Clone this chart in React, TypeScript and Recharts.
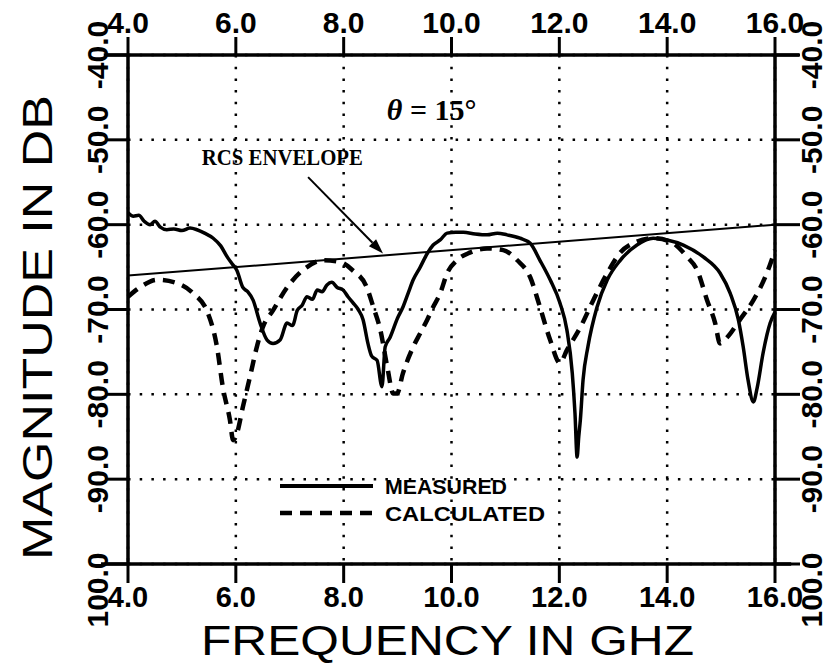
import {
  CartesianGrid,
  ComposedChart,
  Label,
  Legend,
  Line,
  ReferenceDot,
  ReferenceLine,
  XAxis,
  YAxis,
} from "recharts";

// measured RCS, 15 degree incidence
const MEAS_GHZ = [
  4.0, 4.1, 4.2, 4.3, 4.41, 4.5, 4.6, 4.72, 4.85, 5.0, 5.15, 5.28, 5.42, 5.58, 5.72, 5.84, 5.93, 6.02,
  6.13, 6.22, 6.32, 6.45, 6.58, 6.69, 6.82, 6.95, 7.05, 7.14, 7.23, 7.32, 7.42, 7.51, 7.6, 7.69, 7.78,
  7.88, 7.99, 8.08, 8.17, 8.27, 8.36, 8.45, 8.52, 8.62, 8.71, 8.77, 8.86, 9.0, 9.1, 9.2, 9.29, 9.42,
  9.55, 9.66, 9.79, 9.92, 10.08, 10.22, 10.44, 10.66, 10.85, 11.03, 11.27, 11.46, 11.64, 11.83, 12.01,
  12.14, 12.24, 12.29, 12.33, 12.36, 12.39, 12.44, 12.53, 12.7, 12.89, 13.13, 13.44, 13.74, 14.0, 14.3,
  14.67, 14.98, 15.17, 15.32, 15.41, 15.5, 15.6, 15.67, 15.78, 15.91, 16.0,
];
const MEAS_DB = [
  -58.6, -59.0, -58.9, -59.6, -60.0, -59.6, -60.3, -60.6, -60.5, -60.7, -60.4, -60.6, -61.0, -61.6,
  -62.5, -63.8, -64.6, -65.4, -67.4, -67.9, -68.9, -71.6, -73.6, -74.0, -73.6, -71.6, -71.9, -70.1,
  -69.5, -68.5, -68.8, -67.7, -67.9, -67.1, -66.8, -67.4, -67.7, -68.5, -69.2, -70.0, -71.2, -74.0,
  -75.5, -76.0, -79.1, -74.4, -73.3, -71.0, -69.7, -68.0, -66.5, -65.0, -63.4, -62.4, -61.8, -61.0,
  -60.9, -60.9, -61.1, -61.2, -61.0, -61.2, -61.6, -62.2, -64.2, -66.5, -69.2, -72.4, -77.5, -82.2,
  -87.4, -85.0, -83.0, -78.3, -74.4, -69.7, -66.5, -64.2, -62.4, -61.6, -61.8, -62.4, -63.8, -65.7,
  -68.1, -71.2, -74.4, -78.3, -80.9, -79.2, -75.1, -71.6, -70.3,
];

// calculated RCS
const CALC_GHZ = [
  4.0, 4.22, 4.54, 4.91, 5.21, 5.48, 5.65, 5.76, 5.89, 5.95, 6.02, 6.13, 6.26, 6.39, 6.5, 6.69, 6.95,
  7.32, 7.62, 7.93, 8.17, 8.43, 8.55, 8.68, 8.81, 8.92, 8.99, 9.1, 9.29, 9.42, 9.55, 9.66, 9.79, 9.92,
  10.1, 10.34, 10.66, 10.96, 11.22, 11.46, 11.64, 11.83, 12.01, 12.14, 12.39, 12.63, 12.89, 13.13,
  13.44, 13.74, 14.06, 14.37, 14.56, 14.74, 14.89, 14.98, 15.11, 15.35, 15.6, 15.85, 16.0,
];
const CALC_DB = [
  -68.5, -67.4, -66.5, -66.9, -68.1, -70.4, -74.4, -79.2, -83.0, -85.4, -84.6, -81.5, -78.0, -74.4,
  -72.1, -70.1, -67.4, -65.0, -64.2, -64.4, -65.4, -67.4, -69.7, -72.4, -76.8, -79.9, -79.9, -77.5,
  -74.4, -72.8, -71.2, -69.7, -68.1, -65.7, -64.2, -63.3, -62.8, -63.0, -64.2, -66.2, -69.7, -73.6,
  -76.3, -74.8, -72.1, -68.9, -65.7, -63.3, -62.0, -61.6, -62.0, -63.8, -65.4, -68.9, -71.6, -74.0,
  -73.3, -71.2, -68.9, -65.7, -63.0,
];

// straight-line RCS envelope
const ENV_GHZ = [4, 16];
const ENV_DB = [-66, -60];

const FREQ_TICKS = [4, 6, 8, 10, 12, 14, 16];
const FREQ_LABELS = ["4.0", "6.0", "8.0", "10.0", "12.0", "14.0", "16.0"];
const DB_TICKS = [-100, -90, -80, -70, -60, -50, -40];
const DB_LABELS = ["100.0", "-90.0", "-80.0", "-70.0", "-60.0", "-50.0", "-40.0"];

const SERIES_NAMES = ["MEASURED", "CALCULATED"];

const measured = MEAS_GHZ.map((ghz, i) => ({ ghz, db: MEAS_DB[i] }));
const calculated = CALC_GHZ.map((ghz, i) => ({ ghz, db: CALC_DB[i] }));
const envelope = ENV_GHZ.map((ghz, i) => ({ ghz, db: ENV_DB[i] }));

const INK = "#000";
const TICK_FONT = "'Liberation Sans', Arial, sans-serif";
const SERIF = "'Liberation Serif', 'Times New Roman', serif";
const DASH = "12 8";

const labelFor = (v: number, ticks: number[], labels: string[]) => labels[ticks.indexOf(v)] ?? String(v);

function TopTick(p: any) {
  return (
    <text x={p.x} y={p.y - 2} textAnchor="middle" fontFamily={TICK_FONT} fontWeight="bold" fontSize={30} fill={INK}>
      {labelFor(p.payload.value, FREQ_TICKS, FREQ_LABELS)}
    </text>
  );
}

function BottomTick(p: any) {
  return (
    <text x={p.x} y={p.y + 22} textAnchor="middle" fontFamily={TICK_FONT} fontWeight="bold" fontSize={29} fill={INK}>
      {labelFor(p.payload.value, FREQ_TICKS, FREQ_LABELS)}
    </text>
  );
}

function DbTick(p: any, dx: number) {
  const v = p.payload.value;
  const cx = p.x + dx;
  // the bottom label sits below its tick
  const cy = v === DB_TICKS[0] ? p.y + 26 : p.y;
  return (
    <text
      x={cx}
      y={cy}
      transform={`rotate(-90, ${cx}, ${cy})`}
      textAnchor="middle"
      fontFamily={TICK_FONT}
      fontWeight="bold"
      fontSize={30}
      fill={INK}
    >
      {labelFor(v, DB_TICKS, DB_LABELS)}
    </text>
  );
}

function XTitle(p: any) {
  const vb = p.viewBox;
  return (
    <text
      x={vb.x + vb.width / 2 - 4}
      y={vb.y + 91}
      textAnchor="middle"
      fontFamily={TICK_FONT}
      fontSize={42}
      textLength={493}
      lengthAdjust="spacingAndGlyphs"
      fill={INK}
    >
      FREQUENCY IN GHZ
    </text>
  );
}

function YTitle(p: any) {
  const vb = p.viewBox;
  const cx = vb.x + 52;
  const cy = vb.y + vb.height / 2 + 18;
  return (
    <text
      x={cx}
      y={cy}
      transform={`rotate(-90, ${cx}, ${cy})`}
      textAnchor="middle"
      fontFamily={TICK_FONT}
      fontSize={43}
      textLength={465}
      lengthAdjust="spacingAndGlyphs"
      fill={INK}
    >
      MAGNITUDE IN DB
    </text>
  );
}

function ThetaNote(p: any) {
  return (
    <text x={p.cx} y={p.cy} fontFamily={SERIF} fontWeight="bold" fontSize={30} fill={INK}>
      <tspan fontStyle="italic">θ</tspan>
      <tspan> = 15°</tspan>
    </text>
  );
}

function EnvelopeNote(p: any) {
  return (
    <text
      x={p.cx}
      y={p.cy}
      fontFamily={SERIF}
      fontWeight="bold"
      fontSize={23}
      textLength={161}
      lengthAdjust="spacingAndGlyphs"
      fill={INK}
    >
      RCS ENVELOPE
    </text>
  );
}

function Arrow(p: any) {
  const { x1, y1, x2, y2 } = p;
  const a = Math.atan2(y2 - y1, x2 - x1);
  const len = 15;
  const half = 5;
  const bx = x2 - len * Math.cos(a);
  const by = y2 - len * Math.sin(a);
  const nx = -Math.sin(a) * half;
  const ny = Math.cos(a) * half;
  return (
    <g>
      <line x1={x1} y1={y1} x2={bx} y2={by} stroke={INK} strokeWidth={2} />
      <polygon points={`${x2},${y2} ${bx + nx},${by + ny} ${bx - nx},${by - ny}`} fill={INK} />
    </g>
  );
}

function LegendBox(props: any) {
  const present = new Set((props.payload ?? []).map((e: any) => e.value));
  const items = SERIES_NAMES.filter((n) => present.has(n));
  return (
    <svg width={300} height={60}>
      {items.map((name, i) => {
        const y = 16 + i * 27;
        const dashed = name === SERIES_NAMES[1];
        return (
          <g key={name}>
            <line
              x1={10}
              y1={y}
              x2={103}
              y2={y}
              stroke={INK}
              strokeWidth={dashed ? 4.5 : 4}
              strokeDasharray={dashed ? DASH : undefined}
            />
            <text
              x={115}
              y={y + 8}
              fontFamily={TICK_FONT}
              fontWeight="bold"
              fontSize={20}
              textLength={dashed ? 160 : 122}
              lengthAdjust="spacingAndGlyphs"
              fill={INK}
            >
              {name}
            </text>
          </g>
        );
      })}
    </svg>
  );
}

export default function App() {
  return (
    <div style={{ position: "absolute", left: 0, top: 0, background: "#fff" }}>
      <ComposedChart width={830} height={664} margin={{ top: 0, right: 0, bottom: 0, left: 0 }}>
        <CartesianGrid
          xAxisId="bottom"
          yAxisId="left"
          stroke={INK}
          strokeWidth={2.5}
          strokeDasharray="2.5 9.2"
        />
        <XAxis
          xAxisId="bottom"
          dataKey="ghz"
          type="number"
          domain={[4, 16]}
          ticks={FREQ_TICKS}
          orientation="bottom"
          height={100}
          axisLine={false}
          tickSize={19}
          tickLine={{ stroke: INK, strokeWidth: 3 }}
          tick={BottomTick}
          interval={0}
        >
          <Label content={XTitle} />
        </XAxis>
        <XAxis
          xAxisId="top"
          dataKey="ghz"
          type="number"
          domain={[4, 16]}
          ticks={FREQ_TICKS}
          orientation="top"
          height={55}
          axisLine={false}
          tickSize={18}
          tickLine={{ stroke: INK, strokeWidth: 3 }}
          tick={TopTick}
          interval={0}
        />
        <YAxis
          yAxisId="left"
          type="number"
          domain={[-100, -40]}
          ticks={DB_TICKS}
          width={128}
          axisLine={false}
          tickSize={23}
          tickLine={{ stroke: INK, strokeWidth: 3 }}
          tick={(p: any) => DbTick(p, 5)}
          interval={0}
        >
          <Label content={YTitle} />
        </YAxis>
        <YAxis
          yAxisId="right"
          orientation="right"
          type="number"
          domain={[-100, -40]}
          ticks={DB_TICKS}
          width={55}
          axisLine={false}
          tickSize={25}
          tickLine={{ stroke: INK, strokeWidth: 3 }}
          tick={(p: any) => DbTick(p, 20)}
          interval={0}
        />

        {/* plot frame, with the axis lines running past the corners */}
        <ReferenceLine
          xAxisId="bottom"
          yAxisId="left"
          ifOverflow="visible"
          segment={[{ x: 3.55, y: -40 }, { x: 16.45, y: -40 }]}
          stroke={INK}
          strokeWidth={3.5}
        />
        <ReferenceLine
          xAxisId="bottom"
          yAxisId="left"
          ifOverflow="visible"
          segment={[{ x: 3.5, y: -100 }, { x: 16.3, y: -100 }]}
          stroke={INK}
          strokeWidth={3.5}
        />
        <ReferenceLine
          xAxisId="bottom"
          yAxisId="left"
          ifOverflow="visible"
          segment={[{ x: 4, y: -40 }, { x: 4, y: -100 }]}
          stroke={INK}
          strokeWidth={3.5}
        />
        <ReferenceLine
          xAxisId="bottom"
          yAxisId="left"
          ifOverflow="visible"
          segment={[{ x: 16, y: -40 }, { x: 16, y: -100 }]}
          stroke={INK}
          strokeWidth={3.5}
        />

        {/* envelope is tied to the top/right axes so those axes get drawn */}
        <Line
          xAxisId="top"
          yAxisId="right"
          data={envelope}
          dataKey="db"
          name="RCS ENVELOPE"
          type="linear"
          stroke={INK}
          strokeWidth={2}
          dot={false}
          legendType="none"
          isAnimationActive={false}
        />
        <Line
          xAxisId="bottom"
          yAxisId="left"
          data={calculated}
          dataKey="db"
          name={SERIES_NAMES[1]}
          type="monotone"
          stroke={INK}
          strokeWidth={4.5}
          strokeDasharray={DASH}
          dot={false}
          isAnimationActive={false}
        />
        <Line
          xAxisId="bottom"
          yAxisId="left"
          data={measured}
          dataKey="db"
          name={SERIES_NAMES[0]}
          type="monotone"
          stroke={INK}
          strokeWidth={3.5}
          dot={false}
          isAnimationActive={false}
        />

        <ReferenceLine
          xAxisId="bottom"
          yAxisId="left"
          ifOverflow="visible"
          segment={[{ x: 7.34, y: -54.4 }, { x: 8.73, y: -63.4 }]}
          shape={Arrow}
        />
        <ReferenceDot xAxisId="bottom" yAxisId="left" x={5.37} y={-52.97} ifOverflow="visible" shape={EnvelopeNote} />
        <ReferenceDot xAxisId="bottom" yAxisId="left" x={8.8} y={-47.7} ifOverflow="visible" shape={ThetaNote} />

        <Legend
          layout="horizontal"
          verticalAlign="middle"
          align="center"
          content={LegendBox}
          wrapperStyle={{ left: 270, top: 470, width: 300, height: 60 }}
        />
      </ComposedChart>
    </div>
  );
}
